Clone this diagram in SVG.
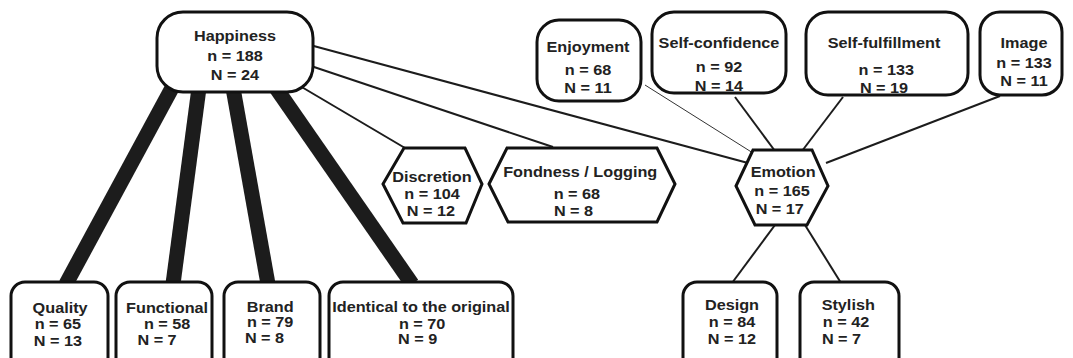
<svg xmlns="http://www.w3.org/2000/svg" width="1073" height="358" viewBox="0 0 1073 358">
<style>
.bg{fill:#ffffff}
.box{fill:#ffffff;stroke:#111111;stroke-width:3}
.hex{fill:#ffffff;stroke:#111111;stroke-width:3;stroke-linejoin:miter}
.t{font-family:"Liberation Sans",Arial,sans-serif;font-weight:bold;font-size:14.5px;fill:#222222;text-anchor:middle}
.thick{stroke:#1c1c1c;stroke-width:15;stroke-linecap:butt;fill:none}
.thin{stroke:#1c1c1c;stroke-width:2;fill:none}
.hair{stroke:#333333;stroke-width:1;fill:none}
</style>
<rect class="bg" x="0" y="0" width="1073" height="358"/>
<g id="connectors">
<line class="thick" x1="172" y1="88" x2="66" y2="284"/>
<line class="thick" x1="199" y1="88" x2="173" y2="284"/>
<line class="thick" x1="233" y1="88" x2="268" y2="284"/>
<line class="thick" x1="276" y1="88" x2="412" y2="284"/>
<line class="thin" x1="300" y1="86" x2="405" y2="148"/>
<line class="thin" x1="308" y1="65" x2="553" y2="147"/>
<line class="thin" x1="310" y1="45" x2="748" y2="163"/>
<line class="hair" x1="645" y1="85" x2="753" y2="153"/>
<line class="thin" x1="735" y1="97" x2="775" y2="151"/>
<line class="thin" x1="843" y1="97" x2="802" y2="151"/>
<line class="thin" x1="1000" y1="96" x2="826" y2="163"/>
<line class="thin" x1="775" y1="225" x2="732" y2="283"/>
<line class="thin" x1="805" y1="225" x2="841" y2="283"/>
</g>
<g id="happiness">
<rect class="box" x="157" y="12" width="156" height="80" rx="26"/>
<g transform="matrix(1.12,0,0,1,-28.2,0)">
<text class="t" x="235" y="41">Happiness</text>
<text class="t" x="235" y="61">n = 188</text>
<text class="t" x="235" y="80">N = 24</text>
</g>
</g>
<g id="enjoyment">
<rect class="box" x="537" y="20" width="104" height="81" rx="22"/>
<g transform="matrix(1.12,0,0,1,-70.56,0)">
<text class="t" x="588" y="52">Enjoyment</text>
<text class="t" x="588" y="75">n = 68</text>
<text class="t" x="588" y="93">N = 11</text>
</g>
</g>
<g id="self-confidence">
<rect class="box" x="652" y="12" width="134" height="81" rx="22"/>
<g transform="matrix(1.12,0,0,1,-86.28,0)">
<text class="t" x="719" y="48">Self-confidence</text>
<text class="t" x="719" y="72">n = 92</text>
<text class="t" x="719" y="91">N = 14</text>
</g>
</g>
<g id="self-fulfillment">
<rect class="box" x="806" y="12" width="162" height="83" rx="22"/>
<g transform="matrix(1.12,0,0,1,-106.08,0)">
<text class="t" x="884" y="48">Self-fulfillment</text>
<text class="t" x="886" y="75">n = 133</text>
<text class="t" x="884" y="93">N = 19</text>
</g>
</g>
<g id="image">
<rect class="box" x="980" y="12" width="82" height="83" rx="20"/>
<g transform="matrix(1.12,0,0,1,-122.88,0)">
<text class="t" x="1024" y="48">Image</text>
<text class="t" x="1024" y="68">n = 133</text>
<text class="t" x="1024" y="86">N = 11</text>
</g>
</g>
<g id="discretion">
<polygon class="hex" points="383,184 404,148 465,148 482,184 466,223 403,223"/>
<g transform="matrix(1.12,0,0,1,-51.84,0)">
<text class="t" x="432" y="182">Discretion</text>
<text class="t" x="432" y="199">n = 104</text>
<text class="t" x="431" y="216">N = 12</text>
</g>
</g>
<g id="fondness">
<polygon class="hex" points="489,184 507,148 657,148 675,184 657,222 508,222"/>
<g transform="matrix(1.12,0,0,1,-69.36,0)">
<text class="t" x="580" y="177">Fondness / Logging</text>
<text class="t" x="577" y="199">n = 68</text>
<text class="t" x="574" y="216">N = 8</text>
</g>
</g>
<g id="emotion">
<polygon class="hex" points="736,186 753,150 812,150 828,186 807,225 755,225"/>
<g transform="matrix(1.12,0,0,1,-93.84,0)">
<text class="t" x="783" y="177">Emotion</text>
<text class="t" x="782" y="196">n = 165</text>
<text class="t" x="780" y="214">N = 17</text>
</g>
</g>
<g id="quality">
<rect class="box" x="11" y="282" width="97" height="95" rx="14"/>
<g transform="matrix(1.12,0,0,1,-7.08,0)">
<text class="t" x="60" y="313">Quality</text>
<text class="t" x="58" y="329">n = 65</text>
<text class="t" x="58" y="346">N = 13</text>
</g>
</g>
<g id="functional">
<rect class="box" x="116" y="282" width="96" height="95" rx="14"/>
<g transform="matrix(1.12,0,0,1,-19.92,0)">
<text class="t" x="167" y="313">Functional</text>
<text class="t" x="167" y="329">n = 58</text>
<text class="t" x="158" y="345">N = 7</text>
</g>
</g>
<g id="brand">
<rect class="box" x="224" y="282" width="96" height="95" rx="14"/>
<g transform="matrix(1.12,0,0,1,-32.28,0)">
<text class="t" x="270" y="312">Brand</text>
<text class="t" x="270" y="327">n = 79</text>
<text class="t" x="265" y="343">N = 8</text>
</g>
</g>
<g id="identical">
<rect class="box" x="329" y="282" width="184" height="95" rx="14"/>
<g transform="matrix(1.12,0,0,1,-50.52,0)">
<text class="t" x="421" y="312">Identical to the original</text>
<text class="t" x="422" y="329">n = 70</text>
<text class="t" x="418" y="344">N = 9</text>
</g>
</g>
<g id="design">
<rect class="box" x="683" y="282" width="94" height="95" rx="14"/>
<g transform="matrix(1.12,0,0,1,-87.84,0)">
<text class="t" x="732" y="310">Design</text>
<text class="t" x="732" y="327">n = 84</text>
<text class="t" x="732" y="344">N = 12</text>
</g>
</g>
<g id="stylish">
<rect class="box" x="800" y="282" width="99" height="95" rx="14"/>
<g transform="matrix(1.12,0,0,1,-101.52,0)">
<text class="t" x="848" y="310">Stylish</text>
<text class="t" x="846" y="327">n = 42</text>
<text class="t" x="842" y="344">N = 7</text>
</g>
</g>
</svg>
